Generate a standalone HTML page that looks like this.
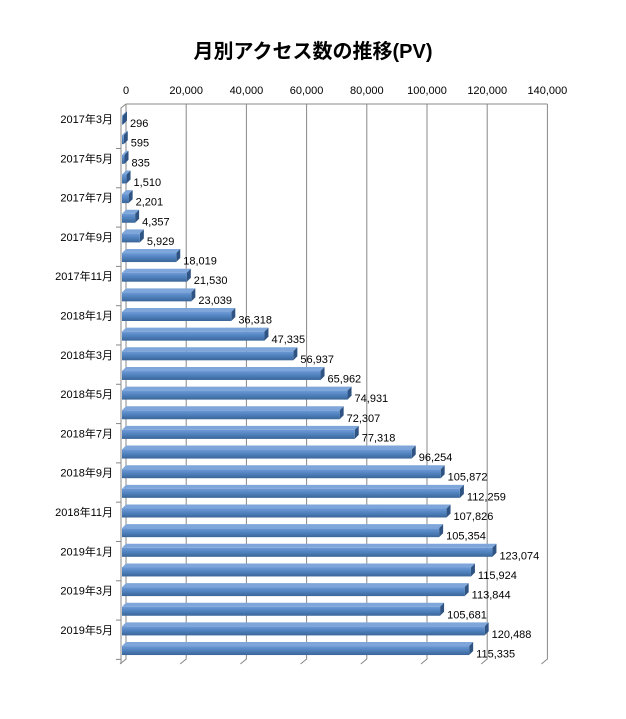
<!DOCTYPE html>
<html><head><meta charset="utf-8"><style>
body{margin:0;background:#fff}
svg text{font-family:"Liberation Sans","Noto Sans CJK JP",sans-serif}
</style></head><body>
<svg id="c" width="626" height="714" xmlns="http://www.w3.org/2000/svg">
<defs><linearGradient id="g" x1="0" y1="0" x2="0" y2="1"><stop offset="0" stop-color="#6d9ad6"/><stop offset="0.5" stop-color="#4f81bd"/><stop offset="1" stop-color="#3a6598"/></linearGradient></defs>
<text x="313" y="58" text-anchor="middle" font-size="20" font-weight="bold">月別アクセス数の推移(PV)</text>
<g id="grid"></g><g id="bars"></g><g id="labels"></g>
</svg>
<script>
const categories=["2017年3月","2017年4月","2017年5月","2017年6月","2017年7月","2017年8月","2017年9月","2017年10月","2017年11月","2017年12月","2018年1月","2018年2月","2018年3月","2018年4月","2018年5月","2018年6月","2018年7月","2018年8月","2018年9月","2018年10月","2018年11月","2018年12月","2019年1月","2019年2月","2019年3月","2019年4月","2019年5月","2019年6月"];
const values=[296,595,835,1510,2201,4357,5929,18019,21530,23039,36318,47335,56937,65962,74931,72307,77318,96254,105872,112259,107826,105354,123074,115924,113844,105681,120488,115335];
const ticks=[0,20000,40000,60000,80000,100000,120000,140000];
const ns="http://www.w3.org/2000/svg";
const X0=122,SC=60.2/20000,Y0=119,STEP=19.65,D=4,BH=9,TOP=104,BOT=659;
const x=v=>X0+v*SC, y=i=>Y0+i*STEP;
function mk(t,a,p){const e=document.createElementNS(ns,t);for(const k in a)e.setAttribute(k,a[k]);p.appendChild(e);return e;}
const grid=document.getElementById('grid'),bars=document.getElementById('bars'),labels=document.getElementById('labels');
ticks.forEach(t=>{
 const gx=x(t)+D;
 const l=mk('polyline',{points:`${gx},${TOP} ${gx},${BOT} ${gx-D-2},${BOT+5}`,fill:'none',stroke:'#888','stroke-width':1},grid);
 
 
 const tx=mk('text',{x:gx,y:94,'text-anchor':'middle','font-size':11},grid);
 tx.textContent=t.toLocaleString('en-US');
 
 
});
mk('line',{x1:X0+D,y1:TOP,x2:x(140000)+D,y2:TOP,stroke:'#888'},grid);
const ax=mk('polyline',{points:`${X0+D},${TOP} ${X0-1},${TOP+4} ${X0-1},${BOT+5}`,fill:'none',stroke:'#888'},grid);


categories.forEach((c,i)=>{
 if(i%2===1){const ty=(y(i)+y(i+1))/2;const tk=mk('line',{x1:X0-6,y1:ty,x2:X0-1,y2:ty,stroke:'#888'},grid);}
 if(i%2===0){const t=mk('text',{x:X0-9,y:y(i)+4,'text-anchor':'end','font-size':11},labels);t.textContent=c;
  
  }
 const v=values[i],xe=Math.max(x(v),X0+1),yt=y(i)-BH/2+1;
 const g=mk('g',{},bars);
 
 
 mk('polygon',{points:`${X0},${yt} ${X0+D},${yt-D} ${xe+D},${yt-D} ${xe},${yt}`,fill:'#7fa6da'},g);
 mk('polygon',{points:`${xe},${yt} ${xe+D},${yt-D} ${xe+D},${yt+BH-D} ${xe},${yt+BH}`,fill:'#2f5483'},g);
 mk('rect',{x:X0,y:yt,width:xe-X0,height:BH,fill:'url(#g)'},g);
 const t=mk('text',{x:xe+D+3,y:y(i)+8,'font-size':11},labels);
 t.textContent=v.toLocaleString('en-US');
 
 
});
</script>
</body></html>
